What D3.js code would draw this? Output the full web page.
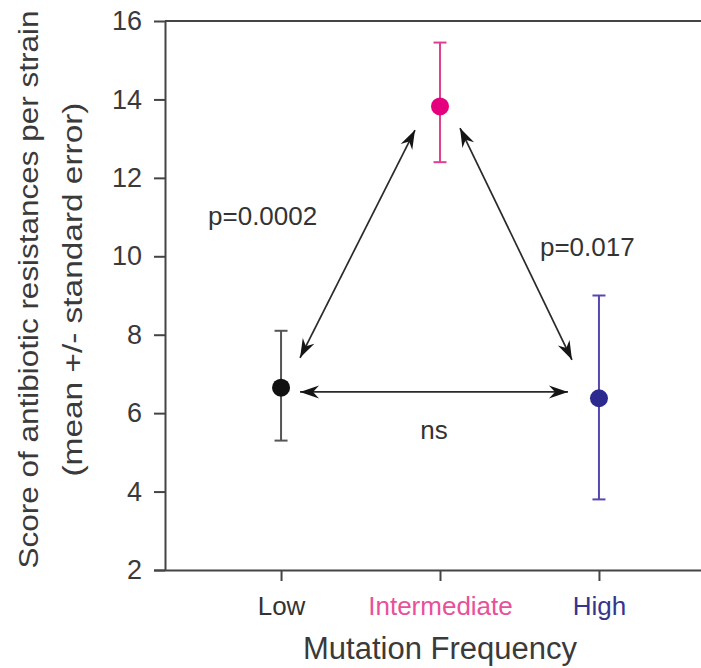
<!DOCTYPE html>
<html>
<head>
<meta charset="utf-8">
<script src="https://cdn.jsdelivr.net/npm/d3@7"></script>
<style>
  html, body { margin: 0; padding: 0; background: #ffffff; }
  svg { display: block; }
  text { font-family: "Liberation Sans", Arial, Helvetica, sans-serif; }
</style>
</head>
<body>
<svg id="chart" width="701" height="668"></svg>
<script>
// ---- data ----
const categories = ["Low", "Intermediate", "High"];
const means = [6.65, 13.82, 6.38];
const lower = [5.3, 12.4, 3.8];
const upper = [8.1, 15.45, 9.0];
const dotColors = ["#111111", "#e5007d", "#2c2a8e"];
const barColors = ["#555555", "#e0408f", "#5548b0"];
const labelColors = ["#333333", "#e8509a", "#35358e"];
const yTicks = [2, 4, 6, 8, 10, 12, 14, 16];

// comparisons (double-headed arrows) with their p-value labels
const compFrom = ["Low", "Intermediate", "Low"];
const compTo = ["Intermediate", "High", "High"];
const compY1 = [7.41, 13.27, 6.54];
const compY2 = [13.22, 7.36, 6.54];
const compLabels = ["p=0.0002", "p=0.017", "ns"];
const compLabelY = [10.8, 10.0, 5.35];

// ---- layout ----
const svg = d3.select("#chart");
const mLeft = 165, mRight = 715, mTop = 21, mBottom = 570;

const x = d3.scalePoint().domain(categories).range([mLeft, mRight]).padding(0.73);
const y = d3.scaleLinear().domain([2, 16]).range([mBottom, mTop]);

const axisColor = "#444444";

// frame (top line)
svg.append("line")
  .attr("x1", mLeft).attr("x2", mRight)
  .attr("y1", y(16)).attr("y2", y(16))
  .attr("stroke", axisColor).attr("stroke-width", 2);

// y axis
const gy = svg.append("g")
  .attr("transform", `translate(${mLeft},0)`)
  .call(d3.axisLeft(y).tickValues(yTicks).tickSize(11).tickPadding(12).tickSizeOuter(0));
gy.select(".domain").attr("stroke", axisColor).attr("stroke-width", 2);
gy.selectAll(".tick line").attr("stroke", axisColor).attr("stroke-width", 2);
gy.selectAll(".tick text")
  .attr("fill", "#3a3a3a")
  .style("font-size", "27px")
  .style("font-family", "'Liberation Sans', Arial, sans-serif");

// x axis
const gx = svg.append("g")
  .attr("transform", `translate(0,${mBottom})`)
  .call(d3.axisBottom(x).tickSize(11).tickPadding(16).tickSizeOuter(0));
gx.select(".domain").attr("stroke", axisColor).attr("stroke-width", 2)
  .attr("d", `M${mLeft - 11},0.5H${mRight}`);
gx.selectAll(".tick line").attr("stroke", axisColor).attr("stroke-width", 2);
gx.selectAll(".tick text")
  .attr("fill", (d, i) => labelColors[i])
  .style("font-size", "26px")
  .style("font-family", "'Liberation Sans', Arial, sans-serif");

// axis titles
svg.append("text")
  .attr("x", x("Intermediate")).attr("y", 659)
  .attr("text-anchor", "middle")
  .attr("fill", "#3a3a3a")
  .style("font-size", "31px")
  .text("Mutation Frequency");

const yMid = (y(2) + y(16)) / 2 - 6;
svg.append("text")
  .attr("transform", `translate(38,${yMid}) rotate(-90)`)
  .attr("text-anchor", "middle")
  .attr("fill", "#3a3a3a")
  .attr("textLength", 558)
  .attr("lengthAdjust", "spacingAndGlyphs")
  .style("font-size", "27px")
  .text("Score of antibiotic resistances per strain");
svg.append("text")
  .attr("transform", `translate(82,${yMid}) rotate(-90)`)
  .attr("text-anchor", "middle")
  .attr("fill", "#3a3a3a")
  .attr("textLength", 374)
  .attr("lengthAdjust", "spacingAndGlyphs")
  .style("font-size", "27px")
  .text("(mean +/- standard error)");

// arrow marker
const defs = svg.append("defs");
defs.append("marker")
  .attr("id", "arrow")
  .attr("viewBox", "-20 -8 21 16")
  .attr("refX", 0).attr("refY", 0)
  .attr("markerUnits", "userSpaceOnUse")
  .attr("markerWidth", 21).attr("markerHeight", 16)
  .attr("orient", "auto-start-reverse")
  .append("path")
  .attr("d", "M0,0 L-19,-6.5 L-13,0 L-19,6.5 Z")
  .attr("fill", "#151515");

// comparison arrows: offsets from dots so arrows stop short of them
const startOffset = [19, 20, 19];
const endOffset = [-25, -27, -31];
const arrows = compFrom.map((f, i) => ({
  x1: x(f) + startOffset[i], y1: y(compY1[i]),
  x2: x(compTo[i]) + endOffset[i], y2: y(compY2[i])
}));
svg.append("g").selectAll("line").data(arrows).join("line")
  .attr("x1", d => d.x1).attr("y1", d => d.y1)
  .attr("x2", d => d.x2).attr("y2", d => d.y2)
  .attr("stroke", "#2a2a2a").attr("stroke-width", 1.7)
  .attr("marker-start", "url(#arrow)")
  .attr("marker-end", "url(#arrow)");

// comparison labels
const labelX = [x("Low") - 73, x("High") - 59, (x("Low") + x("High")) / 2 - 6];
const labelAnchor = ["start", "start", "middle"];
svg.append("g").selectAll("text").data(compLabels).join("text")
  .attr("x", (d, i) => labelX[i])
  .attr("y", (d, i) => y(compLabelY[i]))
  .attr("text-anchor", (d, i) => labelAnchor[i])
  .attr("fill", "#333333")
  .style("font-size", "26px")
  .text(d => d);

// error bars
const eb = svg.append("g").selectAll("g").data(categories).join("g");
eb.append("line")
  .attr("x1", d => x(d)).attr("x2", d => x(d))
  .attr("y1", (d, i) => y(lower[i])).attr("y2", (d, i) => y(upper[i]))
  .attr("stroke", (d, i) => barColors[i]).attr("stroke-width", 2);
eb.append("line")
  .attr("x1", d => x(d) - 6.5).attr("x2", d => x(d) + 6.5)
  .attr("y1", (d, i) => y(lower[i])).attr("y2", (d, i) => y(lower[i]))
  .attr("stroke", (d, i) => barColors[i]).attr("stroke-width", 2);
eb.append("line")
  .attr("x1", d => x(d) - 6.5).attr("x2", d => x(d) + 6.5)
  .attr("y1", (d, i) => y(upper[i])).attr("y2", (d, i) => y(upper[i]))
  .attr("stroke", (d, i) => barColors[i]).attr("stroke-width", 2);

// mean dots
svg.append("g").selectAll("circle").data(categories).join("circle")
  .attr("cx", d => x(d))
  .attr("cy", (d, i) => y(means[i]))
  .attr("r", 9)
  .attr("fill", (d, i) => dotColors[i]);
</script>
</body>
</html>
